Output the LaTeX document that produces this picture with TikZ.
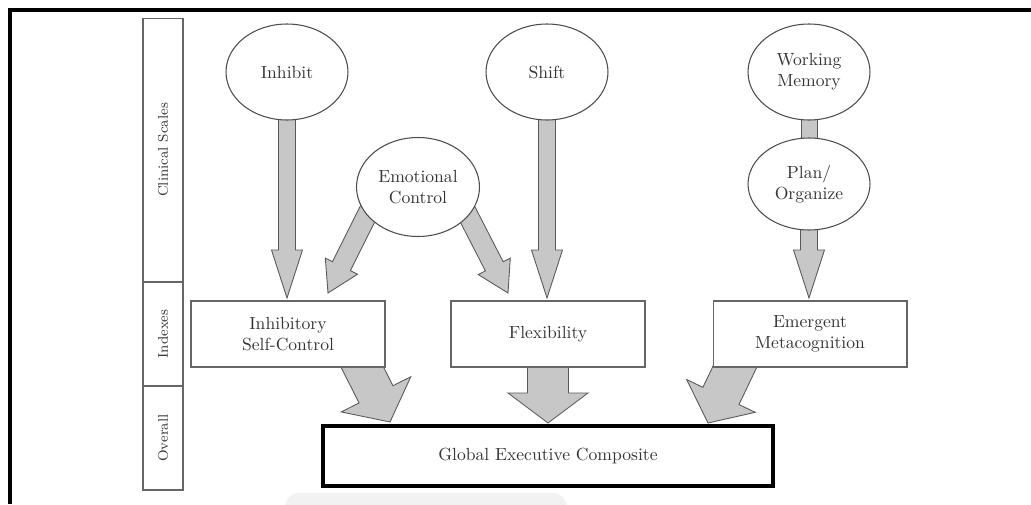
\documentclass[tikz,border=0pt]{standalone}
\usepackage{tikz}
\usetikzlibrary{shapes,positioning,calc,backgrounds}

% grosse flèche : départ, pointe, demi-largeur du corps, demi-largeur de la tête, longueur de la tête (en px)
\newcommand{\grosfleche}[5]{%
  \pgfmathsetlengthmacro{\corps}{#3*0.02cm}%
  \pgfmathsetlengthmacro{\tete}{#4*0.02cm}%
  \pgfmathsetlengthmacro{\lgtete}{#5*0.02cm}%
  \coordinate (base) at ($(#2)!\lgtete!(#1)$);
  \filldraw[flecheb] ($(#1)!\corps!90:(#2)$) -- ($(base)!\corps!90:(#2)$) -- ($(base)!\tete!90:(#2)$) -- (#2)
    -- ($(base)!\tete!-90:(#2)$) -- ($(base)!\corps!-90:(#2)$) -- ($(#1)!\corps!-90:(#2)$) -- cycle;
}

\begin{document}
\begin{tikzpicture}[x=0.02cm, y=-0.02cm, text=black!80,
  bulle/.style={draw=black!70, line width=0.6pt, ellipse, fill=white, align=center, inner sep=0pt, minimum width=2.44cm, minimum height=1.92cm},
  boite/.style={draw=black!60, line width=0.6pt, rectangle, fill=white, align=center, minimum width=3.88cm, minimum height=1.32cm},
  niveau/.style={draw=black!60, line width=0.6pt, rectangle, rotate=90, font=\footnotesize, minimum height=0.8cm, inner sep=0pt},
  flecheb/.style={fill=black!22, draw=black!65, line width=0.5pt, line join=miter}]
				\useasboundingbox (0,0) rectangle (1031,504);
				% Cadre
				\draw[line width=2.3pt] (10,504) -- (10,10) -- (1031,10);
				\fill[black!5, rounded corners=8] (285,520) -- (285,493) -- (567,493) -- (567,520);
				
				% Niveaux
				\node[niveau, minimum width=5.28cm] (clin) at (163,150) {Clinical Scales};
				\node[niveau, minimum width=2.08cm] (idx) at (163,334) {Indexes};
				\node[niveau, minimum width=2.08cm] (ovr) at (163,438) {Overall};
				
				% Échelles cliniques
				\node[bulle] (inh) at (287,72) {Inhibit};
				\node[bulle] (shf) at (547,72) {Shift};
				\node[bulle] (wm) at (809,72) {Working\\Memory};
				\node[bulle, minimum width=2.46cm, minimum height=1.98cm] (emo) at (418,187) {Emotional\\Control};
				\node[bulle, minimum height=1.84cm] (pln) at (809,184) {Plan/\\Organize};
				
				% Index
				\node[boite] (isc) at (288,334) {Inhibitory\\Self-Control};
				\node[boite] (flx) at (548,334) {Flexibility};
				\node[boite] (emc) at (810,334) {Emergent\\Metacognition};
				
				% Composite global
				\node[draw=black, line width=1.8pt, fill=white, minimum width=9cm, minimum height=1.2cm] (gec) at (548,456) {Global Executive Composite};
				
				% Pointes et départs
				\coordinate (pInh) at (287,298);
				\coordinate (pShf) at (547,298);
				\coordinate (pPln) at (809,298);
				\coordinate (emoG) at (381,187);
				\coordinate (emoD) at (454,188);
				\coordinate (pEmoG) at (328,293);
				\coordinate (pEmoD) at (508,293);
				\coordinate (dIsc) at (345,333);
				\coordinate (pIsc) at (390,422);
				\coordinate (pFlx) at (548,423);
				\coordinate (dEmc) at (751,333);
				\coordinate (pEmc) at (708,423);
				
				% Flèches
				\begin{scope}[on background layer]
					\foreach \src/\dst in {inh/pInh, shf/pShf, pln/pPln} {
						\grosfleche{\src}{\dst}{8.5}{15.5}{48}
					}
					\filldraw[flecheb] ($(wm)+(-8,0)$) rectangle ($(pln)+(8,0)$);
					\grosfleche{emoG}{pEmoG}{10}{18}{30}
					\grosfleche{emoD}{pEmoD}{10}{18}{30}
					\grosfleche{dIsc}{pIsc}{19}{39}{31}
					\grosfleche{flx}{pFlx}{20.5}{40}{30}
					\grosfleche{dEmc}{pEmc}{20}{38}{30}
				\end{scope}
			\end{tikzpicture}
\end{document}
